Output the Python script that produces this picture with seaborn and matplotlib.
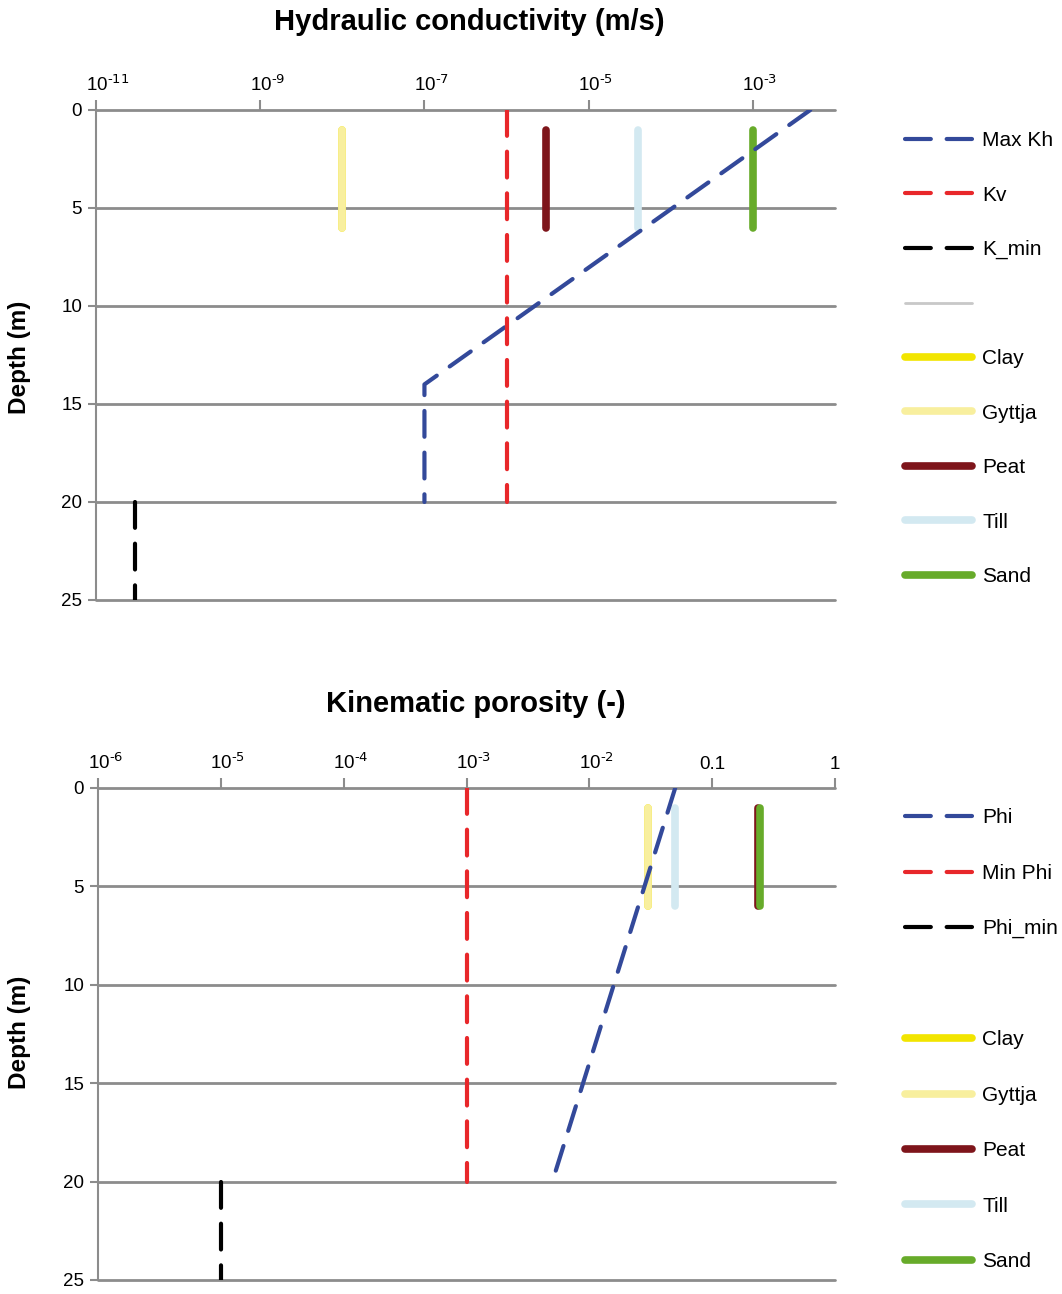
import numpy as np
import pandas as pd
import matplotlib
matplotlib.use("Agg")
import matplotlib.pyplot as plt
from matplotlib.lines import Line2D
from matplotlib.ticker import FixedLocator, NullLocator
import seaborn as sns

# hydraulic conductivity profile (m/s) vs depth (m)
kh_depth = [0, 14, 20]
max_kh = [5e-3, 1e-7, 1e-7]
kv_depth = [0, 20]
kv = [1e-6, 1e-6]
kmin_depth = [20, 25]
k_min = [3e-11, 3e-11]

# kinematic porosity profile (-) vs depth (m)
phi_depth = [0, 20]
phi = [0.05, 0.005]
minphi_depth = [0, 20]
min_phi = [1e-3, 1e-3]
phimin_depth = [20, 25]
phi_min = [1e-5, 1e-5]

# soil types, short bars from 1 to 6 m
soils = ["Clay", "Gyttja", "Peat", "Till", "Sand"]
soil_depth = [1, 6]
soil_k = [1e-8, 1e-8, 3e-6, 4e-5, 1e-3]
soil_phi = [0.03, 0.03, 0.238, 0.05, 0.243]
soil_colors = ["#f2e500", "#f8ef9e", "#7e151b", "#d3e9f1", "#67ab2a"]

k_ticks = [1e-11, 1e-9, 1e-7, 1e-5, 1e-3]
k_labels = ["-11", "-9", "-7", "-5", "-3"]
phi_ticks = [1e-6, 1e-5, 1e-4, 1e-3, 1e-2, 0.1, 1]
phi_labels = ["-6", "-5", "-4", "-3", "-2", "0.1", "1"]
depth_ticks = [0, 5, 10, 15, 20, 25]

BLUE, RED, BLACK = "#33499a", "#e8272a", "#000000"
GRID = "#8c8c8c"

sns.set_style("white")
plt.rcParams["font.family"] = ["Liberation Sans", "DejaVu Sans"]
plt.rcParams["mathtext.default"] = "regular"
plt.rcParams["text.color"] = "black"
plt.rcParams["xtick.labelcolor"] = "black"
plt.rcParams["ytick.labelcolor"] = "black"

DASH = (0, (6.2, 3.8))
TICK_FS = 13.5

fig = plt.figure(figsize=(10.62, 12.94), dpi=100)
W, H = 1062, 1294
ax1 = fig.add_axes([96 / W, 1 - 600 / H, 739 / W, 490 / H])
ax2 = fig.add_axes([98 / W, 1 - 1280 / H, 737 / W, 492 / H])


def dashed(ax, x, y, color):
    sns.lineplot(x=x, y=y, ax=ax, sort=False, estimator=None, color=color,
                 lw=3, linestyle=DASH, dash_capstyle="round", zorder=4)


def soil_bars(ax, vals):
    for name, v, c in zip(soils, vals, soil_colors):
        sns.lineplot(x=[v, v], y=soil_depth, ax=ax, sort=False, estimator=None,
                     color=c, lw=5.5, solid_capstyle="round", zorder=3)


def style_axis(ax, xlim, ticks, labels):
    ax.set_xscale("log")
    ax.set_xlim(*xlim)
    ax.set_ylim(25, 0)
    ax.xaxis.tick_top()
    ax.xaxis.set_major_locator(FixedLocator(ticks))
    ax.xaxis.set_minor_locator(NullLocator())
    ax.set_yticks(depth_ticks)
    ax.tick_params(axis="x", which="major", top=True, bottom=False, length=7,
                   width=1.5, color=GRID, labeltop=False, labelbottom=False)
    ax.tick_params(axis="y", left=True, length=6, width=1.5, color=GRID,
                   labelsize=TICK_FS, pad=4, labelcolor="black")
    # power-of-ten labels: the "10" sits over the tick, exponent to its right
    for t, lab in zip(ticks, labels):
        if lab.startswith("-"):
            txt, ha, dx = "10$^{\\text{%s}}$" % lab, "left", -7.5
        else:
            txt, ha, dx = lab, "center", 0
        ax.annotate(txt, xy=(t, 1), xycoords=("data", "axes fraction"),
                    xytext=(dx, 14), textcoords="offset points", ha=ha,
                    va="baseline", fontsize=TICK_FS, color="black",
                    annotation_clip=False)
    ax.set_xlabel("")
    ax.set_ylabel("")
    for s in ["top", "right", "bottom"]:
        ax.spines[s].set_visible(False)
    ax.spines["left"].set_color(GRID)
    ax.spines["left"].set_linewidth(1.5)
    ax.set_axisbelow(True)
    ax.grid(axis="y", color=GRID, lw=2)
    ax.grid(axis="x", visible=False)
    for gl in ax.get_ygridlines():
        gl.set_clip_on(False)


# top panel
soil_bars(ax1, soil_k)
dashed(ax1, max_kh, kh_depth, BLUE)
dashed(ax1, kv, kv_depth, RED)
dashed(ax1, k_min, kmin_depth, BLACK)
style_axis(ax1, (1e-11, 1e-2), k_ticks, k_labels)

# bottom panel
soil_bars(ax2, soil_phi)
dashed(ax2, phi, phi_depth, BLUE)
dashed(ax2, min_phi, minphi_depth, RED)
dashed(ax2, phi_min, phimin_depth, BLACK)
style_axis(ax2, (1e-6, 1), phi_ticks, phi_labels)

fig.text(469 / W, 1 - 22 / H, "Hydraulic conductivity (m/s)", ha="center",
         va="center", fontsize=21, fontweight="bold", color="black")
fig.text(476 / W, 1 - 704 / H, "Kinematic porosity (-)", ha="center",
         va="center", fontsize=21, fontweight="bold", color="black")
fig.text(20 / W, 1 - 357 / H, "Depth (m)", rotation=90, ha="center",
         va="center", fontsize=17.5, fontweight="bold", color="black")
fig.text(20 / W, 1 - 1032 / H, "Depth (m)", rotation=90, ha="center",
         va="center", fontsize=17.5, fontweight="bold", color="black")


def dash_handle(c, label):
    return Line2D([], [], color=c, lw=3, linestyle=DASH,
                  dash_capstyle="round", label=label)


soil_handles = [Line2D([], [], color=c, lw=5.5, solid_capstyle="round", label=n)
                for n, c in zip(soils, soil_colors)]

h1 = [dash_handle(BLUE, "Max Kh"), dash_handle(RED, "Kv"),
      dash_handle(BLACK, "K_min"),
      Line2D([], [], color="#c8c8c8", lw=2, label=" ")] + soil_handles
h2 = [dash_handle(BLUE, "Phi"), dash_handle(RED, "Min Phi"),
      dash_handle(BLACK, "Phi_min"),
      Line2D([], [], color="none", lw=2, label=" ")] + soil_handles

leg_kw = dict(loc="upper left", frameon=False, fontsize=15, handlelength=3.2,
              handletextpad=0.5, borderaxespad=0, labelcolor="black")
fig.legend(handles=h1, bbox_to_anchor=(897 / W, 1 - 123 / H),
           labelspacing=1.7, **leg_kw)
fig.legend(handles=h2, bbox_to_anchor=(897 / W, 1 - 800 / H),
           labelspacing=1.75, **leg_kw)

fig.savefig("out.png", dpi=100)
